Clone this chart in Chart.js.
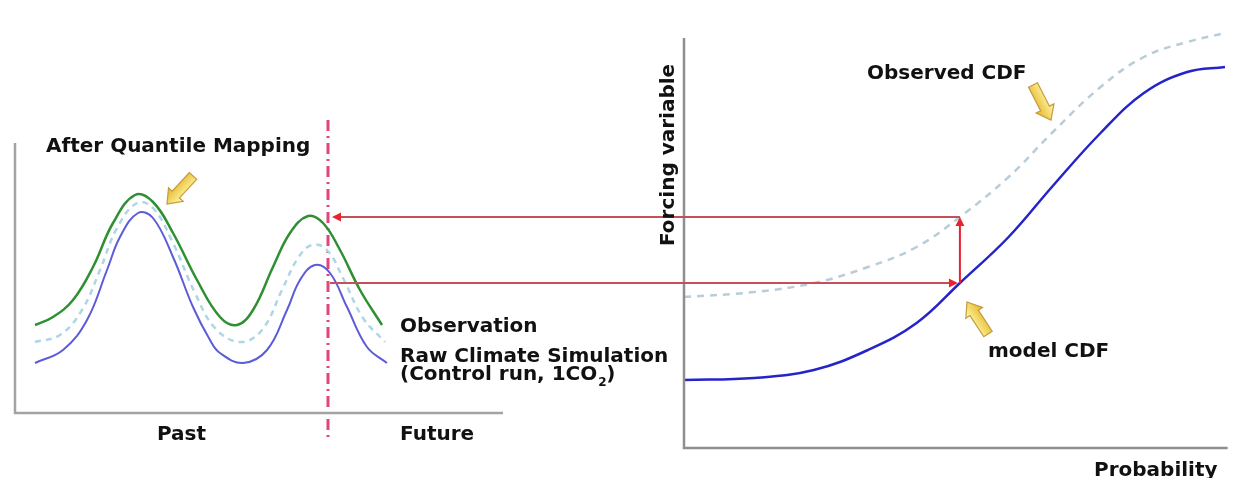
<!DOCTYPE html>
<html lang="en">
<head>
<meta charset="UTF-8">
<title>Quantile Mapping</title>
<script src="https://cdn.jsdelivr.net/npm/chart.js"></script>
<style>
  body { margin: 0; background: #fff; }
  canvas { display: block; }
</style>
</head>
<body>
<canvas id="chart" width="1233" height="478"></canvas>
<script>
// left panel: time series (time step, value)
const obsTime = [1, 1.9, 2.9, 3.9, 4.9, 6, 6.9, 7.9, 9.1, 10.25, 11.1, 11.9, 12.9, 13.75, 14.65, 15.4, 16.25, 17.25, 18.35];
const obsValue = [30.75, 32.75, 37, 45.25, 56.25, 63.25, 61.5, 53.75, 42, 32.75, 30.75, 34.5, 45.25, 53.75, 58, 56.25, 49.5, 39.5, 30.75];
const rawTime = [1, 2.4, 3.6, 4.6, 5.25, 6.15, 6.9, 7.9, 8.9, 9.75, 10.25, 11.4, 12.6, 13.6, 14.25, 15, 15.75, 16.6, 17.6, 18.6];
const rawValue = [21.25, 24.5, 32, 44.5, 52.75, 58.75, 57.5, 47.75, 35.25, 27, 23.75, 21.25, 24.5, 34.5, 42, 45.75, 43.75, 35.25, 25.25, 21.25];
const qmTime = [1, 2.25, 3.35, 4.25, 5.1, 6.1, 6.9, 7.9, 9, 10, 11.25, 12.35, 13.35, 14.15, 14.85, 15.6, 16.4, 17.4, 18.5];
const qmValue = [26.5, 28.25, 34.5, 44.5, 55, 61.25, 60, 51.25, 38.75, 30, 26.5, 29.5, 39.5, 47.5, 50.75, 49.5, 42.5, 32.5, 26.5];
const splitTime = 15.65;          // past / future boundary
const leftAxisTime = [0, 24.4];
const leftAxisValue = [8.75, 76.25];

// right panel: CDFs (probability, forcing variable)
const probability = [0, 0.13, 0.24, 0.34, 0.43, 0.51, 0.6, 0.68, 0.77, 0.85, 0.93, 1.0];
const modelCdf = [17, 17.5, 19.5, 24.5, 31.25, 41.25, 52.75, 65.25, 78.75, 88.75, 94, 95.25];
const observedCdf = [37.75, 39, 41.25, 45.25, 50.25, 57.75, 67.75, 78.75, 90.25, 97.75, 101.5, 103.75];
const mappedIndex = 5;            // probability where the mapping is shown
const rightAxisValue = [0, 102.5];

// scale ranges so each panel lands where it should on the page
function range(pxA, valA, pxB, valB, size) {
  const k = (valB - valA) / (pxB - pxA);
  return { min: valA - pxA * k, max: valA + (size - pxA) * k };
}
const W = 1233, H = 478;
const xLRange = range(15, 0, 503, 24.4, W);
const xRRange = range(684, 0, 1225, 1, W);
const yRange = range(H - 448, 0, H - 48, 100, H);

const pts = (xs, ys) => xs.map((x, i) => ({ x, y: ys[i] }));
const FONT = 'bold 20px "DejaVu Sans", sans-serif';

function blockArrow(ctx, x1, y1, x2, y2) {
  const a = Math.atan2(y2 - y1, x2 - x1);
  const len = Math.hypot(x2 - x1, y2 - y1);
  ctx.save();
  ctx.translate(x1, y1);
  ctx.rotate(a);
  const g = ctx.createLinearGradient(0, -9, 0, 9);
  g.addColorStop(0, '#fff7a8');
  g.addColorStop(1, '#e6b82a');
  ctx.beginPath();
  ctx.moveTo(0, -5);
  ctx.lineTo(len - 13, -5);
  ctx.lineTo(len - 13, -10);
  ctx.lineTo(len, 0);
  ctx.lineTo(len - 13, 10);
  ctx.lineTo(len - 13, 5);
  ctx.lineTo(0, 5);
  ctx.closePath();
  ctx.fillStyle = g;
  ctx.fill();
  ctx.strokeStyle = '#c49a3c';
  ctx.lineWidth = 1.2;
  ctx.stroke();
  ctx.restore();
}

function head(ctx, x, y, dir) {
  ctx.save();
  ctx.translate(x, y);
  ctx.rotate(dir);
  ctx.beginPath();
  ctx.moveTo(0, 0);
  ctx.lineTo(-9, -4.5);
  ctx.lineTo(-9, 4.5);
  ctx.closePath();
  ctx.fillStyle = '#e8222e';
  ctx.fill();
  ctx.restore();
}

const overlay = {
  id: 'overlay',
  afterDatasetsDraw(chart) {
    const ctx = chart.ctx;
    const xL = chart.scales.xL, xR = chart.scales.xR, y = chart.scales.y;
    const xs = xL.getPixelForValue(splitTime);
    const xq = xR.getPixelForValue(probability[mappedIndex]);
    const yLo = y.getPixelForValue(modelCdf[mappedIndex]);
    const yHi = y.getPixelForValue(observedCdf[mappedIndex]);
    ctx.save();
    ctx.strokeStyle = '#c4505a';
    ctx.lineWidth = 2.2;
    ctx.beginPath();
    ctx.moveTo(xq, yHi); ctx.lineTo(xs + 8, yHi);
    ctx.moveTo(xs + 2, yLo); ctx.lineTo(xq - 6, yLo);
    ctx.stroke();
    ctx.strokeStyle = '#e8222e';
    ctx.lineWidth = 2;
    ctx.beginPath();
    ctx.moveTo(xq, yLo); ctx.lineTo(xq, yHi + 6);
    ctx.stroke();
    head(ctx, xs + 4, yHi, Math.PI);
    head(ctx, xq - 2, yLo, 0);
    head(ctx, xq, yHi, -Math.PI / 2);
    ctx.restore();

    blockArrow(ctx, 193, 176, 167, 204);
    blockArrow(ctx, 1033, 85, 1051, 120);
    blockArrow(ctx, 988, 334, 967, 302);

    ctx.save();
    ctx.fillStyle = '#111';
    ctx.font = FONT;
    ctx.textBaseline = 'alphabetic';
    ctx.fillText('After Quantile Mapping', 46, 152);
    ctx.fillText('Observation', 400, 332);
    ctx.fillText('Raw Climate Simulation', 400, 362);
    const s = '(Control run, 1CO';
    ctx.fillText(s, 400, 380);
    const w = ctx.measureText(s).width;
    ctx.font = 'bold 12px "DejaVu Sans", sans-serif';
    ctx.fillText('2', 400 + w + 1, 386);
    ctx.font = FONT;
    ctx.fillText(')', 400 + w + 9, 380);
    ctx.fillText('Past', 157, 440);
    ctx.fillText('Future', 400, 440);
    ctx.fillText('Observed CDF', 867, 79);
    ctx.fillText('model CDF', 988, 357);
    ctx.fillText('Probability', 1094, 476);
    ctx.translate(674, 246);
    ctx.rotate(-Math.PI / 2);
    ctx.fillText('Forcing variable', 0, 0);
    ctx.restore();
  }
};

const line = (data, xAxisID, color, width, dash, smooth) => ({
  data, xAxisID, yAxisID: 'y',
  borderColor: color, borderWidth: width, borderDash: dash || [],
  pointRadius: 0, fill: false, clip: false,
  tension: smooth ? 0.4 : 0
});

new Chart(document.getElementById('chart'), {
  type: 'line',
  data: {
    datasets: [
      line([{ x: leftAxisTime[0], y: leftAxisValue[1] }, { x: leftAxisTime[0], y: leftAxisValue[0] },
            { x: leftAxisTime[1], y: leftAxisValue[0] }], 'xL', '#a3a3a3', 2.5),
      line([{ x: 0, y: rightAxisValue[1] }, { x: 0, y: rightAxisValue[0] },
            { x: 1.005, y: rightAxisValue[0] }], 'xR', '#8f8f8f', 2.5),
      line(pts(qmTime, qmValue), 'xL', '#aed6e6', 2.5, [6, 5], true),
      line(pts(obsTime, obsValue), 'xL', '#2f8f33', 2.5, null, true),
      line(pts(rawTime, rawValue), 'xL', '#5c5cd8', 2, null, true),
      line(pts(probability, observedCdf), 'xR', '#b8cdd8', 2.5, [7, 6], true),
      line(pts(probability, modelCdf), 'xR', '#2424c8', 2.5, null, true),
      line([{ x: splitTime, y: 82 }, { x: splitTime, y: 1.75 }], 'xL', '#e0467c', 3, [11, 5, 2, 5])
    ]
  },
  options: {
    responsive: false,
    animation: false,
    layout: { padding: 0 },
    plugins: { legend: { display: false }, tooltip: { enabled: false } },
    scales: {
      xL: { type: 'linear', display: false, min: xLRange.min, max: xLRange.max },
      xR: { type: 'linear', display: false, min: xRRange.min, max: xRRange.max },
      y: { type: 'linear', display: false, min: yRange.min, max: yRange.max }
    }
  },
  plugins: [overlay]
});
</script>
</body>
</html>
